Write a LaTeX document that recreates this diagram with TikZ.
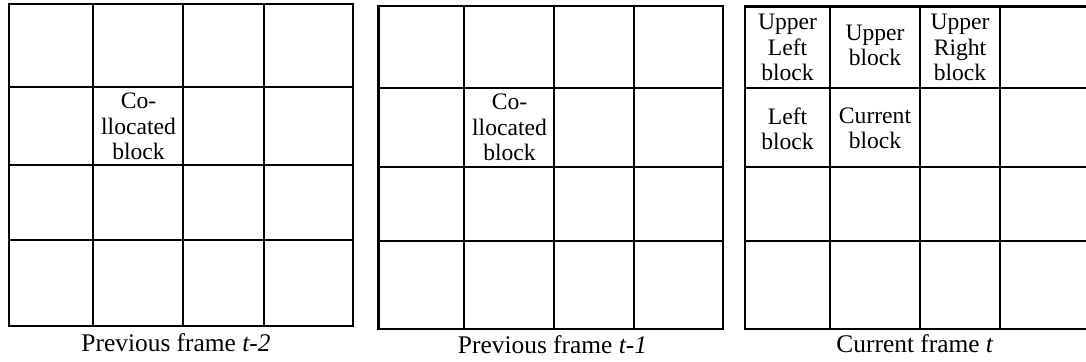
\documentclass[tikz,border=0pt]{standalone}
\usepackage{fontspec}
\setmainfont{Liberation Serif}
\usepackage{tikz}
\usetikzlibrary{positioning}
\tikzset{
  gridline/.style={draw=black,line width=1.1pt,line cap=rect},
  lbl/.style={align=center,inner sep=0pt,
              font=\fontsize{11.8}{12.6}\selectfont},
  captxt/.style={anchor=base,inner sep=0pt,
              font=\fontsize{12.7}{14}\selectfont},
}

\begin{document}
\begin{tikzpicture}[x=0.5pt,y=-0.5pt]
\useasboundingbox (0,0) rectangle (1086,362);
\clip (0,0) rectangle (1086,362);

% Previous frame t-2
\foreach \x in {9,93.3,183.3,264.3,353.3}
  \draw[gridline] (\x,4) -- (\x,326);
\foreach \y in {4,87.3,165,240,326}
  \draw[gridline] (9,\y) -- (353.3,\y);

% Previous frame t-1
\foreach \x in {378.5,463.7,553.7,633.7,723}
  \draw[gridline] (\x,5.7) -- (\x,329);
\foreach \y in {5.7,88.3,166.7,240.7,329}
  \draw[gridline] (378.5,\y) -- (723,\y);

% Current frame t (right edge runs off the page)
\foreach \x in {744.7,830,920,1000}
  \draw[gridline] (\x,6.5) -- (\x,329);
\foreach \y in {6.5,88.3,166.7,240.7,329}
  \draw[gridline] (744.7,\y) -- (1095,\y);

% Block labels
\node[lbl] (colA) at (138.5,126.5) {Co-\\llocated\\block};
\node[lbl] (colB) at (509.5,127.5) {Co-\\llocated\\block};
\node[lbl] (ul)   at (787.5,47.5)  {Upper\\Left\\block};
\node[lbl] (up)   at (875,45)      {Upper\\block};
\node[lbl] (ur)   at (960,47.5)    {Upper\\Right\\block};
\node[lbl] (lft)  at (787.5,128.5) {Left\\block};
\node[lbl] (cur)  at (875,128.5)   {Current\\block};

% Captions
\node[captxt] (capA) at (176,352)   {Previous frame \textit{t-2}};
\node[captxt] (capB) at (552.5,354) {Previous frame \textit{t-1}};
\node[captxt] (capC) at (915,353)   {Current frame \textit{t}};

\end{tikzpicture}
\end{document}
